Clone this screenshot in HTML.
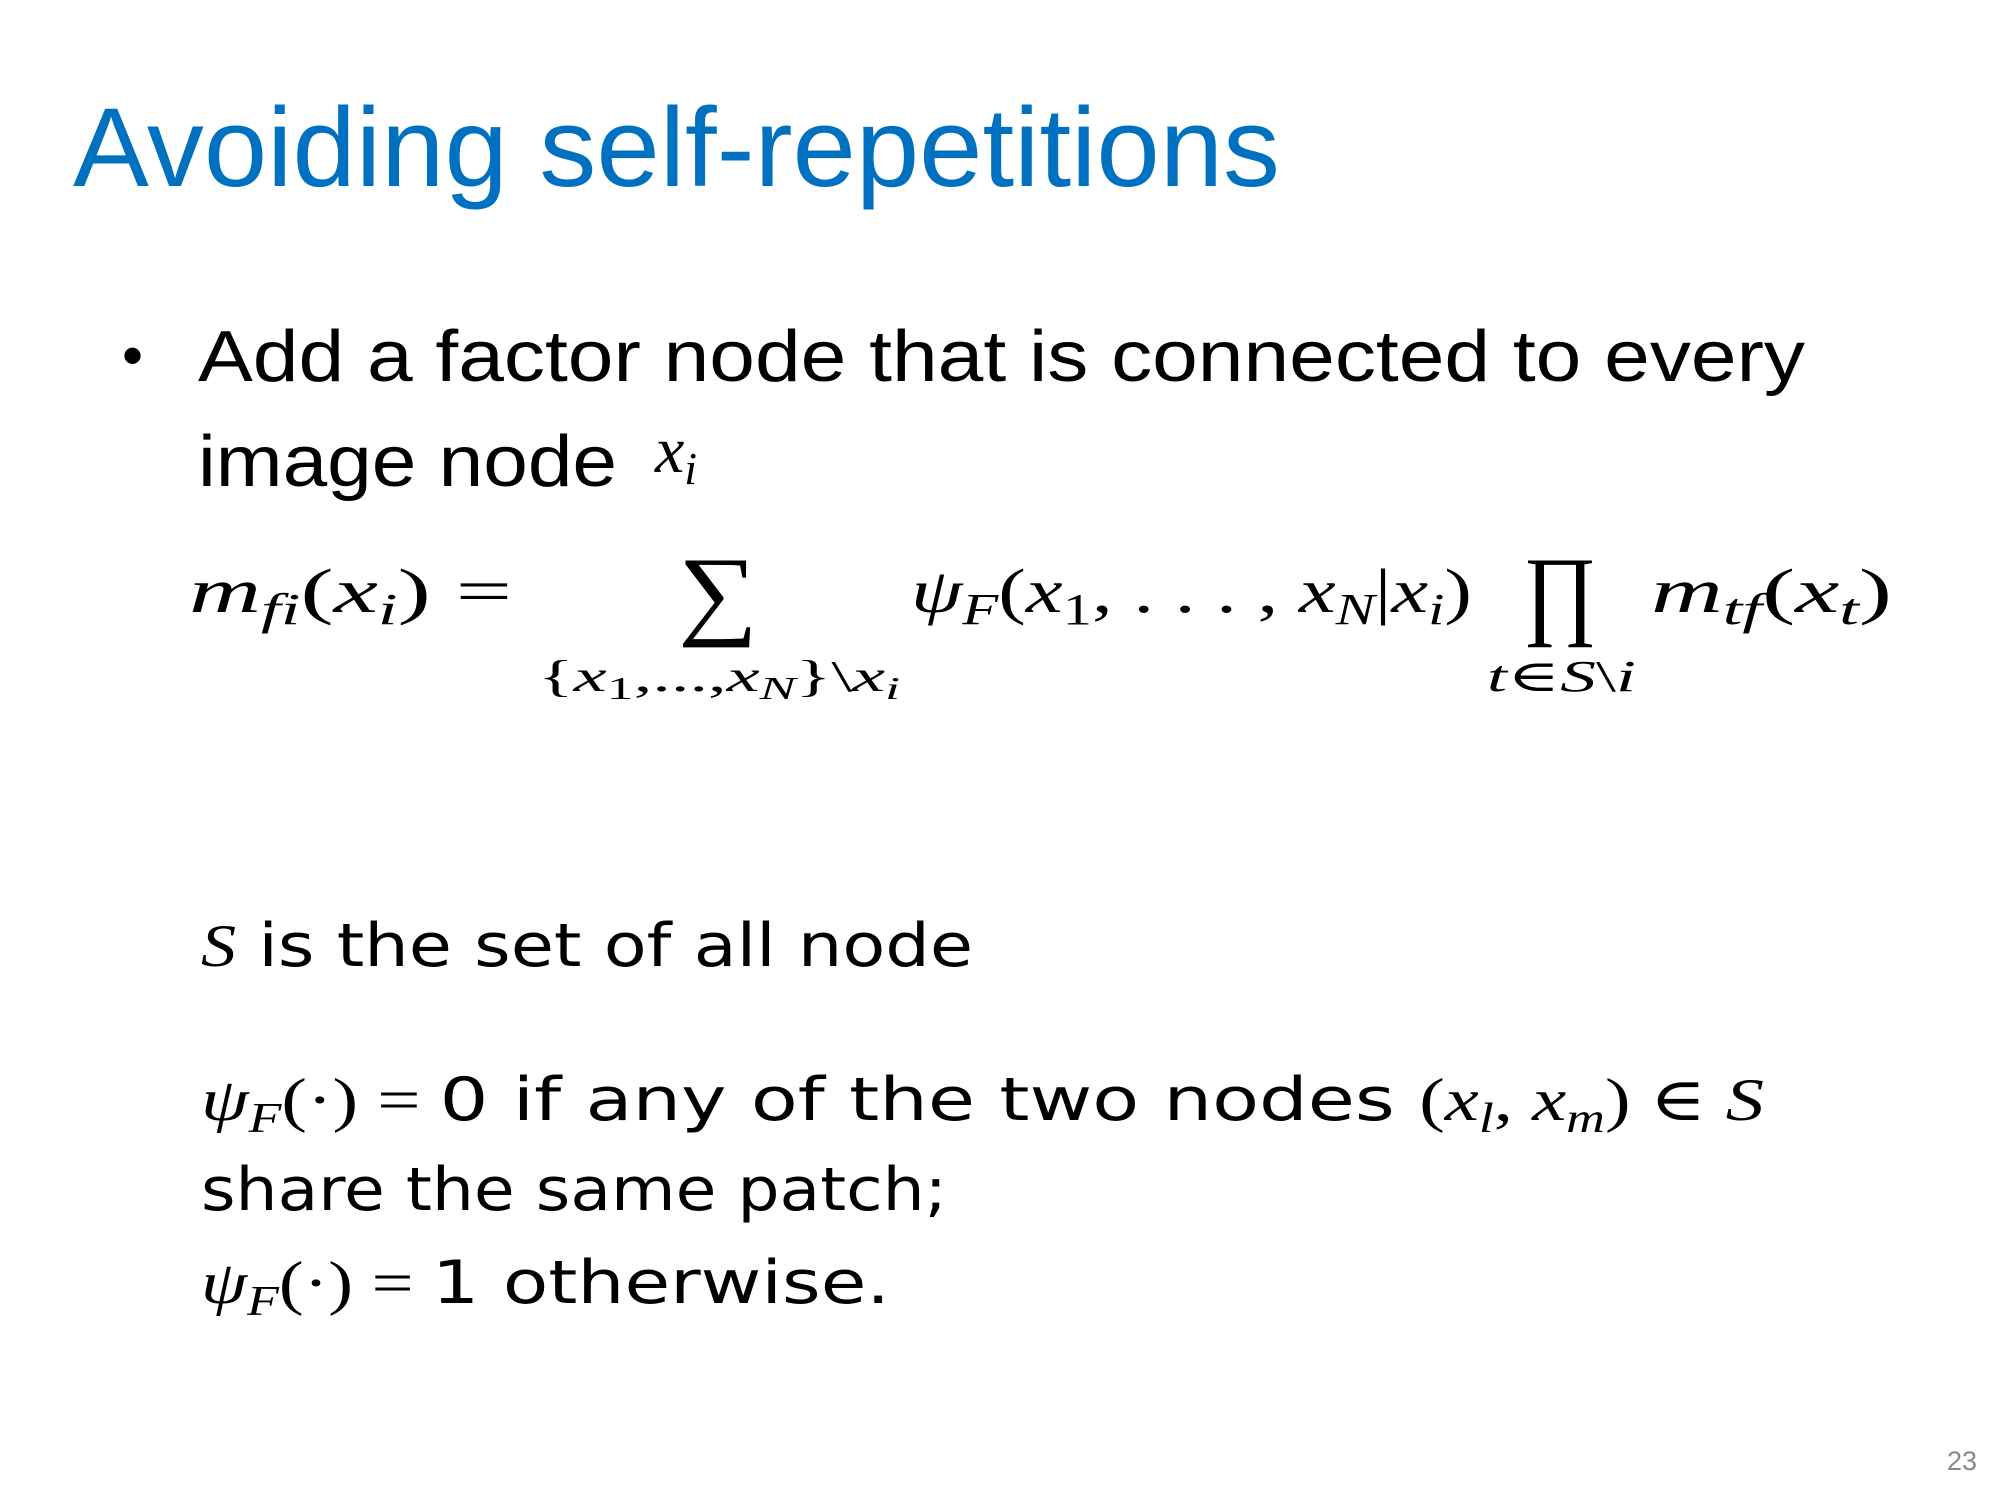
<!DOCTYPE html>
<html><head><meta charset="utf-8"><style>
html,body{margin:0;padding:0;background:#fff;}
svg{display:block;}
.s{font-family:"Liberation Sans","DejaVu Sans",sans-serif;}
.m{font-family:"Liberation Serif","DejaVu Serif",serif;font-style:italic;}
.r{font-family:"Liberation Serif","DejaVu Serif",serif;}
.d{font-family:"DejaVu Sans","Liberation Sans",sans-serif;}
</style></head><body>
<svg width="2000" height="1500" viewBox="0 0 2000 1500" xmlns="http://www.w3.org/2000/svg">
<text class="s" x="73" y="186" font-size="112" fill="#0070C0" textLength="1207" lengthAdjust="spacingAndGlyphs">Avoiding self-repetitions</text>
<text class="s" x="122" y="376" font-size="60" fill="#000">•</text>
<text class="s" x="198" y="381" font-size="72" fill="#000" textLength="1607" lengthAdjust="spacingAndGlyphs">Add a factor node that is connected to every</text>
<text class="s" x="198" y="486" font-size="72" fill="#000" textLength="419" lengthAdjust="spacingAndGlyphs">image node</text>
<text x="655" y="472" font-size="66" fill="#000"><tspan class="m">x</tspan><tspan class="m" font-size="46" dy="12">i</tspan></text>

<!-- equation -->
<text x="189" y="612" font-size="62" fill="#000" textLength="323" lengthAdjust="spacingAndGlyphs"><tspan class="m">m</tspan><tspan class="m" font-size="44" dy="12">fi</tspan><tspan class="r" dy="-12">(</tspan><tspan class="m">x</tspan><tspan class="m" font-size="44" dy="12">i</tspan><tspan class="r" dy="-12">) =</tspan></text>
<text class="r" x="678" y="626" font-size="100" fill="#000" textLength="80" lengthAdjust="spacingAndGlyphs">∑</text>
<text x="538" y="691" font-size="44" fill="#000" textLength="362" lengthAdjust="spacingAndGlyphs"><tspan class="r">{</tspan><tspan class="m">x</tspan><tspan class="r" font-size="32" dy="8">1</tspan><tspan class="r" dy="-8">,...,</tspan><tspan class="m">x</tspan><tspan class="m" font-size="32" dy="8">N</tspan><tspan class="r" dy="-8">}\</tspan><tspan class="m">x</tspan><tspan class="m" font-size="32" dy="8">i</tspan></text>
<text x="911" y="612" font-size="62" fill="#000" textLength="561" lengthAdjust="spacingAndGlyphs"><tspan class="m">ψ</tspan><tspan class="m" font-size="44" dy="12">F</tspan><tspan class="r" dy="-12">(</tspan><tspan class="m">x</tspan><tspan class="r" font-size="44" dy="12">1</tspan><tspan class="r" dy="-12">, . . . , </tspan><tspan class="m">x</tspan><tspan class="m" font-size="44" dy="12">N</tspan><tspan class="r" dy="-12">|</tspan><tspan class="m">x</tspan><tspan class="m" font-size="44" dy="12">i</tspan><tspan class="r" dy="-12">)</tspan></text>
<text class="r" x="1523" y="626" font-size="100" fill="#000" textLength="74" lengthAdjust="spacingAndGlyphs">∏</text>
<text x="1487" y="691" font-size="44" fill="#000" textLength="149" lengthAdjust="spacingAndGlyphs"><tspan class="m">t</tspan><tspan class="r">∈</tspan><tspan class="m">S</tspan><tspan class="r">\</tspan><tspan class="m">i</tspan></text>
<text x="1651" y="612" font-size="62" fill="#000" textLength="241" lengthAdjust="spacingAndGlyphs"><tspan class="m">m</tspan><tspan class="m" font-size="44" dy="12">tf</tspan><tspan class="r" dy="-12">(</tspan><tspan class="m">x</tspan><tspan class="m" font-size="44" dy="12">t</tspan><tspan class="r" dy="-12">)</tspan></text>

<!-- text lines -->
<text x="201" y="966" font-size="60" fill="#000" textLength="772" lengthAdjust="spacingAndGlyphs"><tspan class="m">S</tspan><tspan class="d"> is the set of all node</tspan></text>
<text x="201" y="1120" font-size="60" fill="#000" textLength="1563" lengthAdjust="spacingAndGlyphs"><tspan class="m">ψ</tspan><tspan class="m" font-size="42" dy="12">F</tspan><tspan class="r" dy="-12">(·) = </tspan><tspan class="d">0 if any of the two nodes </tspan><tspan class="r">(</tspan><tspan class="m">x</tspan><tspan class="m" font-size="42" dy="12">l</tspan><tspan class="r" dy="-12">, </tspan><tspan class="m">x</tspan><tspan class="m" font-size="42" dy="12">m</tspan><tspan class="r" dy="-12">) ∈ </tspan><tspan class="m">S</tspan></text>
<text class="d" x="201" y="1210" font-size="60" fill="#000" textLength="746" lengthAdjust="spacingAndGlyphs">share the same patch;</text>
<text x="201" y="1303" font-size="60" fill="#000" textLength="689" lengthAdjust="spacingAndGlyphs"><tspan class="m">ψ</tspan><tspan class="m" font-size="42" dy="12">F</tspan><tspan class="r" dy="-12">(·) = </tspan><tspan class="d">1 otherwise.</tspan></text>

<text class="s" x="1947" y="1470" font-size="27" fill="#888">23</text>
</svg>
</body></html>
